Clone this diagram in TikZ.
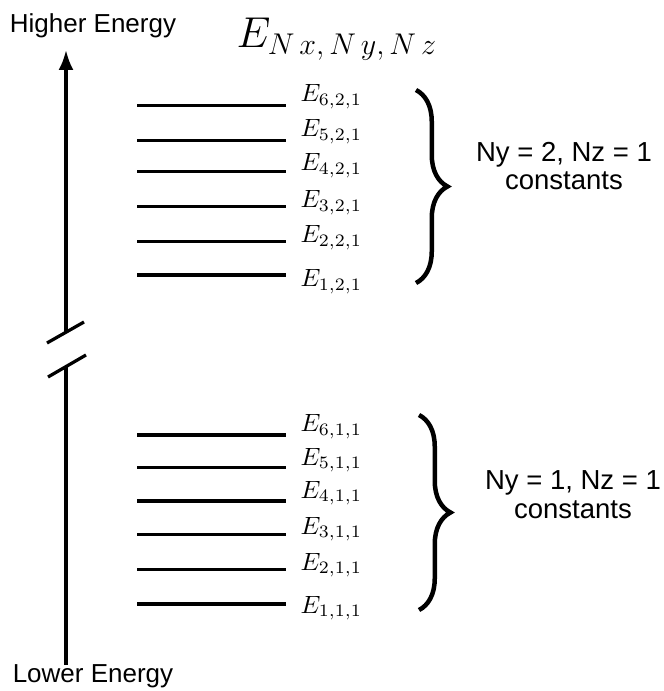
\documentclass[tikz,border=0pt]{standalone}
\usepackage{amsmath}
\usepackage{fontspec}
\newfontfamily\lsans{Liberation Sans}
\usepackage{tikz}
\usetikzlibrary{arrows.meta,positioning,calc,decorations.pathreplacing}

\begin{document}
\begin{tikzpicture}[x=0.4pt,y=-0.4pt,
    nivel/.style={line width=1.3pt},
    rotulo/.style={anchor=base west,inner sep=0pt,font=\fontsize{10}{12}\selectfont},
    txt/.style={font=\lsans\fontsize{10.4}{11.4}\selectfont,inner sep=0pt},
    chave/.style={decorate,decoration={brace,amplitude=12.6pt},line width=1.8pt}]
        \useasboundingbox (0,0) rectangle (663,691);
        % eixo de energia
        \coordinate (axbot) at (66,665);
        \coordinate (brklo) at (66,367);
        \coordinate (brkhi) at (66,332);
        \coordinate (axtop) at (66,50);
        \draw[line width=1.3pt] (axbot) -- (brklo);
        \draw[line width=1.3pt,-{Latex[length=8pt,width=6pt]}] (brkhi) -- (axtop);
        % quebra do eixo
        \draw[line width=1.3pt] ($(brkhi)+(-19,11)$) -- ($(brkhi)+(18,-10)$);
        \draw[line width=1.3pt] ($(brklo)+(-18,10)$) -- ($(brklo)+(20,-12)$);
        \node[txt,anchor=base] (alta) at (93,33) {Higher Energy};
        \node[txt,anchor=base] (baixa) at (93,682) {Lower Energy};
        % titulo
        \node[anchor=base west,inner sep=0pt,font=\fontsize{17.5}{20}\selectfont] (titulo) at (236,48)
          {$E_{N\,x,\,N\,y,\,N\,z}$};
        % niveis Ny = 2
        \foreach \y/\ly/\n in {105.7/101.7/6, 140.3/136.7/5, 171.7/171/4,
                               206.3/207.5/3, 241.7/243/2, 275/287/1} {
          \draw[nivel] (137,\y) -- (286,\y);
          \node[rotulo] (e\n21) at (300,\ly) {$E_{\n,2,1}$};
        }
        % niveis Ny = 1
        \foreach \y/\ly/\n in {435/431.7/6, 467.7/465/5, 501/498/4,
                               534.3/534/3, 569.3/570/2, 604/613/1} {
          \draw[nivel] (137,\y) -- (286,\y);
          \node[rotulo] (e\n11) at (300,\ly) {$E_{\n,1,1}$};
        }
        % chaves
        \draw[chave] (416,90) -- (416,283);
        \node[txt,align=center,anchor=base,font=\lsans\fontsize{11}{11.4}\selectfont] (grupo2) at (564,190) {Ny = 2, Nz = 1\\constants};
        \draw[chave] (419,415) -- (419,610);
        \node[txt,align=center,anchor=base,font=\lsans\fontsize{11}{11.4}\selectfont] (grupo1) at (573,518) {Ny = 1, Nz = 1\\constants};
\end{tikzpicture}
\end{document}
